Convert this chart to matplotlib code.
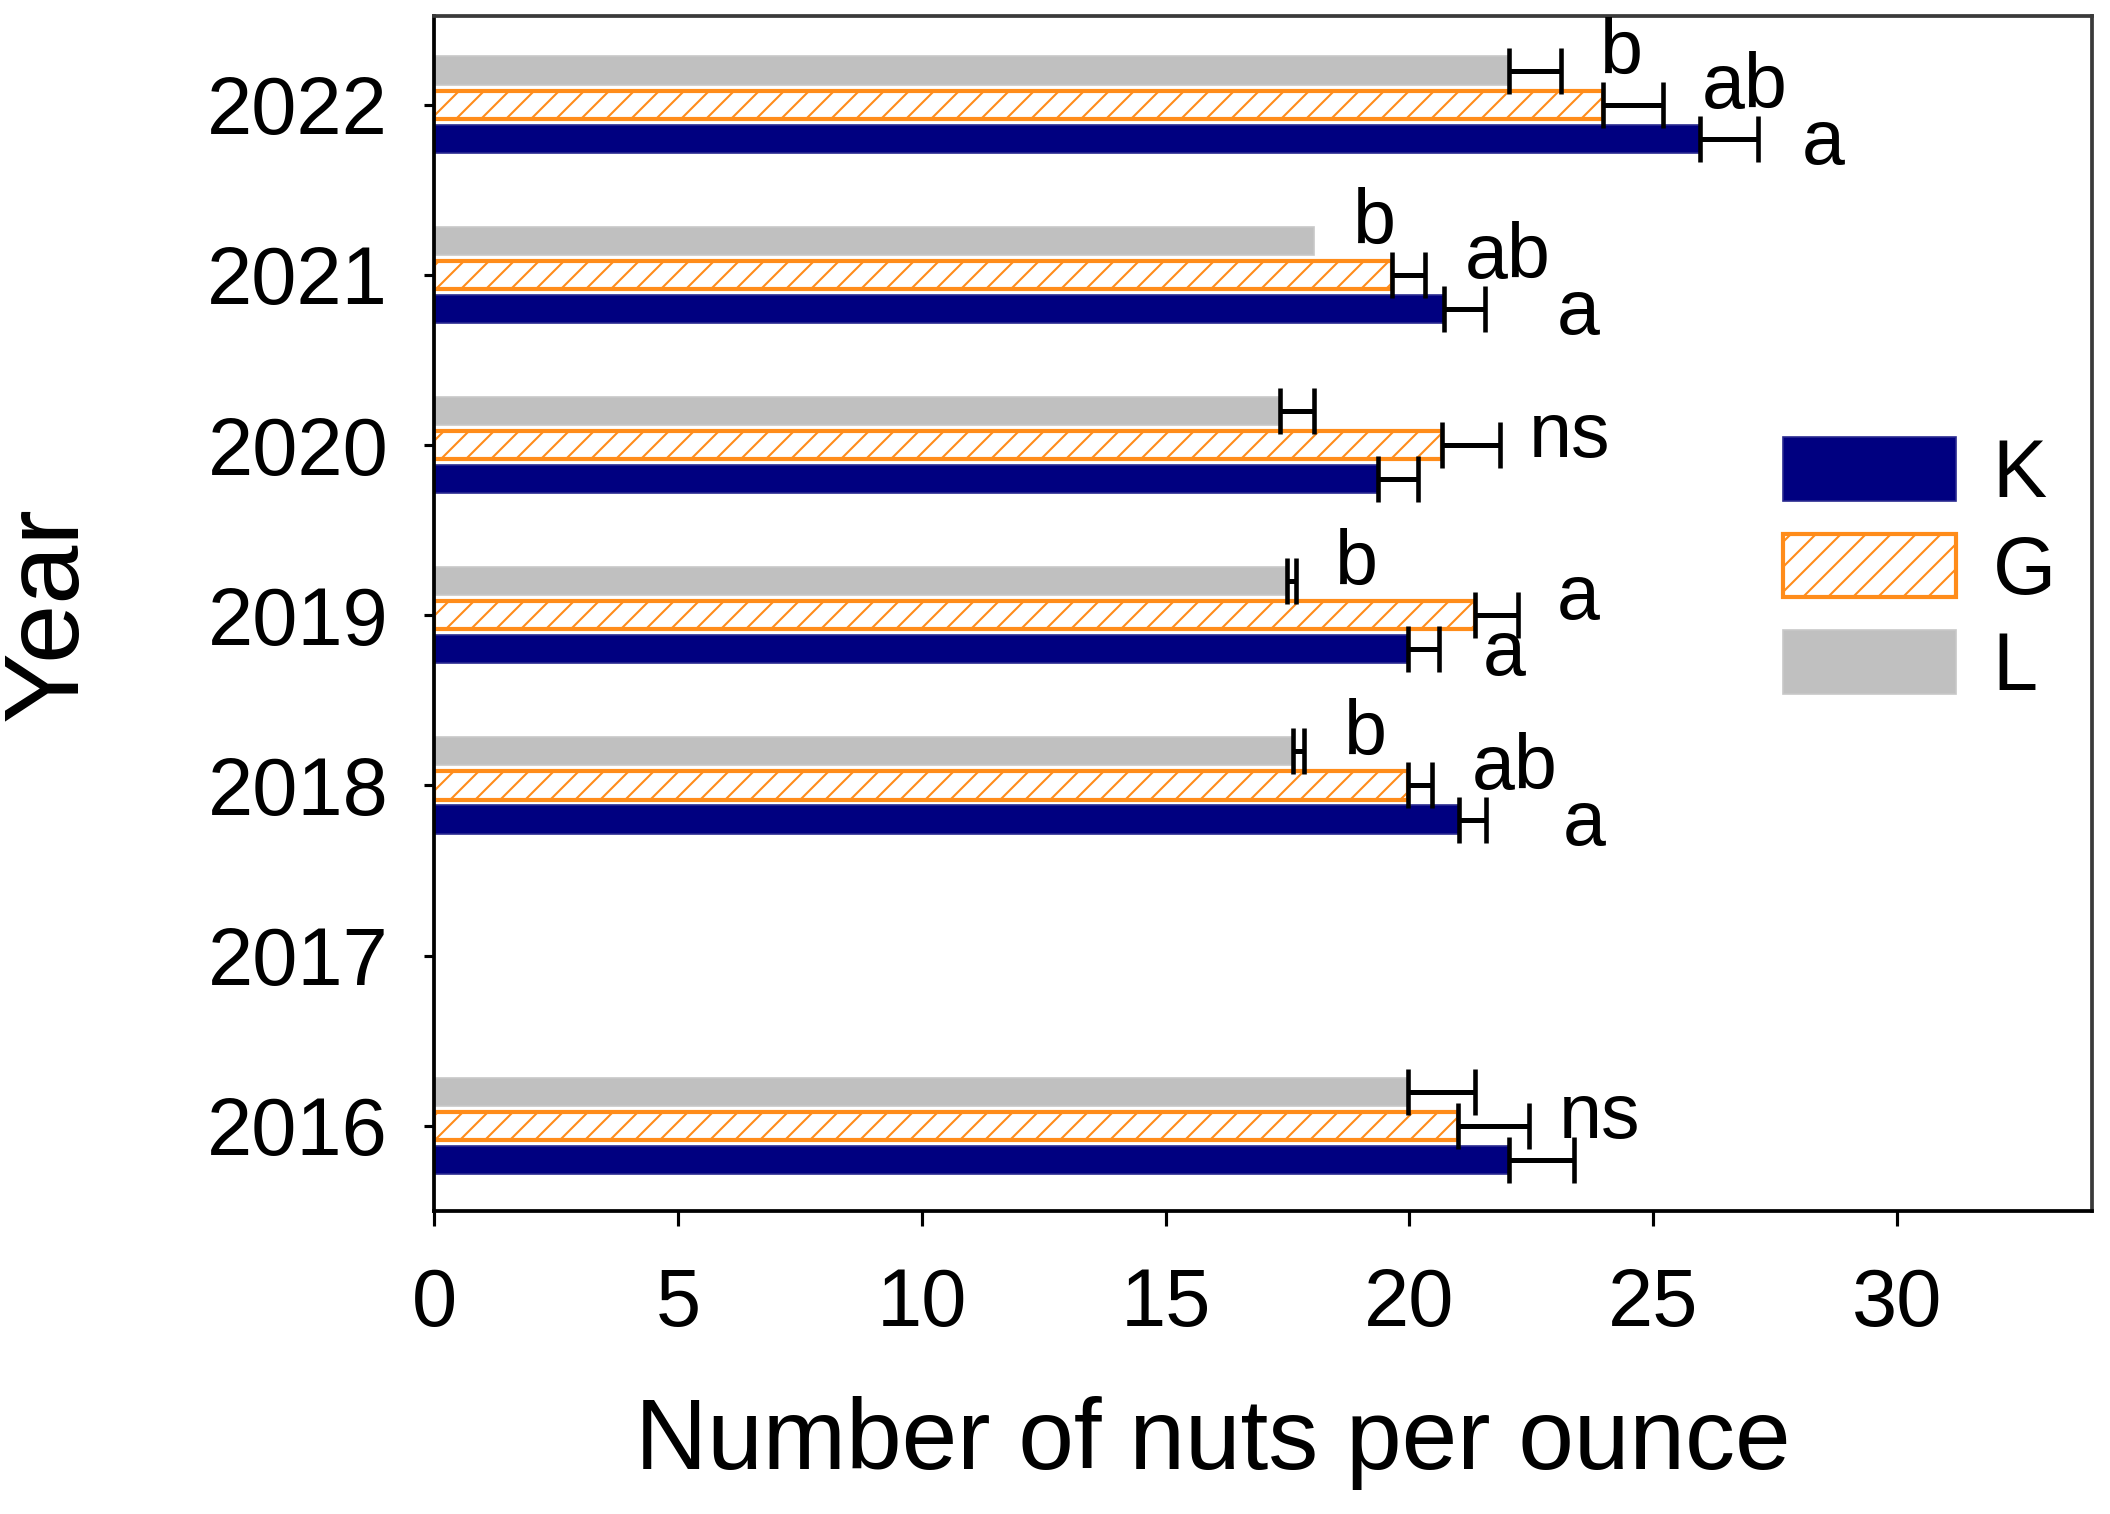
import matplotlib
matplotlib.use("Agg")
import matplotlib.pyplot as plt
import numpy as np

# Years on the y axis (2017 has no data)
YEARS = [2016, 2017, 2018, 2019, 2020, 2021, 2022]

# Number of nuts per ounce, by treatment
K_VALUES = [22.05, np.nan, 21.02, 19.97, 19.35, 20.72, 25.97]
G_VALUES = [21.0, np.nan, 19.97, 21.35, 20.66, 19.64, 23.98]
L_VALUES = [19.97, np.nan, 17.62, 17.49, 17.35, 18.04, 22.04]

# Error bars (positive side only)
K_ERR = [1.33, np.nan, 0.55, 0.63, 0.83, 0.83, 1.18]
G_ERR = [1.46, np.nan, 0.50, 0.88, 1.19, 0.69, 1.22]
L_ERR = [1.38, np.nan, 0.23, 0.19, 0.69, 0.0, 1.06]

# Significance letters
K_SIG = ["", "", "a", "a", "", "a", "a"]
G_SIG = ["ns", "", "ab", "a", "ns", "ab", "ab"]
L_SIG = ["", "", "b", "b", "", "b", "b"]

X_TICKS = [0, 5, 10, 15, 20, 25, 30]

plt.rcParams["font.family"] = ["Liberation Sans", "DejaVu Sans"]
plt.rcParams["hatch.linewidth"] = 1.0

fig = plt.figure(figsize=(2110 / 150, 1514 / 150), dpi=150)
ax = fig.add_axes([0.2057, 0.2001, 0.9915 - 0.2057, 0.9894 - 0.2001])

bar_h = 0.165
offset = 0.2
years = np.array(YEARS, dtype=float)

series = [
    ("K", K_VALUES, K_ERR, K_SIG, -offset, dict(color="#000080", edgecolor="#2a2a90", linewidth=0.8)),
    ("G", G_VALUES, G_ERR, G_SIG, 0.0, dict(facecolor="white", edgecolor="#FF8C1A", hatch="//", linewidth=2.0)),
    ("L", L_VALUES, L_ERR, L_SIG, offset, dict(color="#C0C0C0", edgecolor="#c8c8c8", linewidth=0.8)),
]

letters = {}
for name, vals, errs, sigs, dy, style in series:
    vals = np.array(vals, dtype=float)
    errs = np.array(errs, dtype=float)
    ok = ~np.isnan(vals)
    ax.barh(years[ok] + dy, vals[ok], height=bar_h, label=name, zorder=2, **style)
    has_err = ok & (errs > 0)
    ax.errorbar(vals[has_err], years[has_err] + dy,
                xerr=[np.zeros(has_err.sum()), errs[has_err]],
                fmt="none", ecolor="black", elinewidth=2.4, capsize=11,
                capthick=2.2, zorder=3)
    for yr, v, e, s in zip(years, vals, errs, sigs):
        if not s:
            continue
        if s == "ns":
            tx, ty = v + e + 0.6, yr + dy + 0.05
        elif name == "K":
            tx, ty = v + e + 0.9, yr + dy - 0.03
        else:
            tx, ty = v + e + 0.8, yr + dy + 0.1
        t = ax.text(tx, ty, s, fontsize=37, ha="left", va="center", zorder=4)
        letters[(name, yr)] = t

ax.set_xlim(0, 34)
ax.set_ylim(2015.5, 2022.52)
ax.set_xticks(X_TICKS)
ax.set_xticklabels([str(t) for t in X_TICKS])
ax.set_yticks(YEARS)
ax.set_yticklabels([str(y) for y in YEARS])

ax.tick_params(axis="x", direction="out", length=7, width=1.5, labelsize=39, pad=20)
ax.tick_params(axis="y", direction="out", length=5, width=1.5, labelsize=39, pad=17)

for side in ["left", "bottom"]:
    ax.spines[side].set_linewidth(1.8)
    ax.spines[side].set_color("black")
for side in ["top", "right"]:
    ax.spines[side].set_linewidth(1.8)
    ax.spines[side].set_color("#3a3a3a")

ax.set_xlabel("Number of nuts per ounce", fontsize=48, labelpad=28)
ax.xaxis.set_label_coords(0.47, -0.155)
ax.set_ylabel("Year", fontsize=51, labelpad=52)

ax.legend(loc="upper left", bbox_to_anchor=(1783 / 2110, 1 - 437 / 1514),
          bbox_transform=fig.transFigure, frameon=False, fontsize=39,
          handlelength=2.13, handleheight=0.83, handletextpad=0.45,
          labelspacing=0.24, borderpad=0, borderaxespad=0)

# push a K letter to the right of the G letter when the two collide
fig.canvas.draw()
inv = ax.transData.inverted()
for (name, yr), t in letters.items():
    g = letters.get(("G", yr))
    if name != "K" or g is None:
        continue
    bk = t.get_window_extent()
    bg = g.get_window_extent()
    if bk.x0 < bg.x1 and bk.x1 > bg.x0:
        new_x = inv.transform((bg.x1 + 6, 0))[0]
        t.set_x(new_x)

fig.savefig("out.png", dpi=150)
